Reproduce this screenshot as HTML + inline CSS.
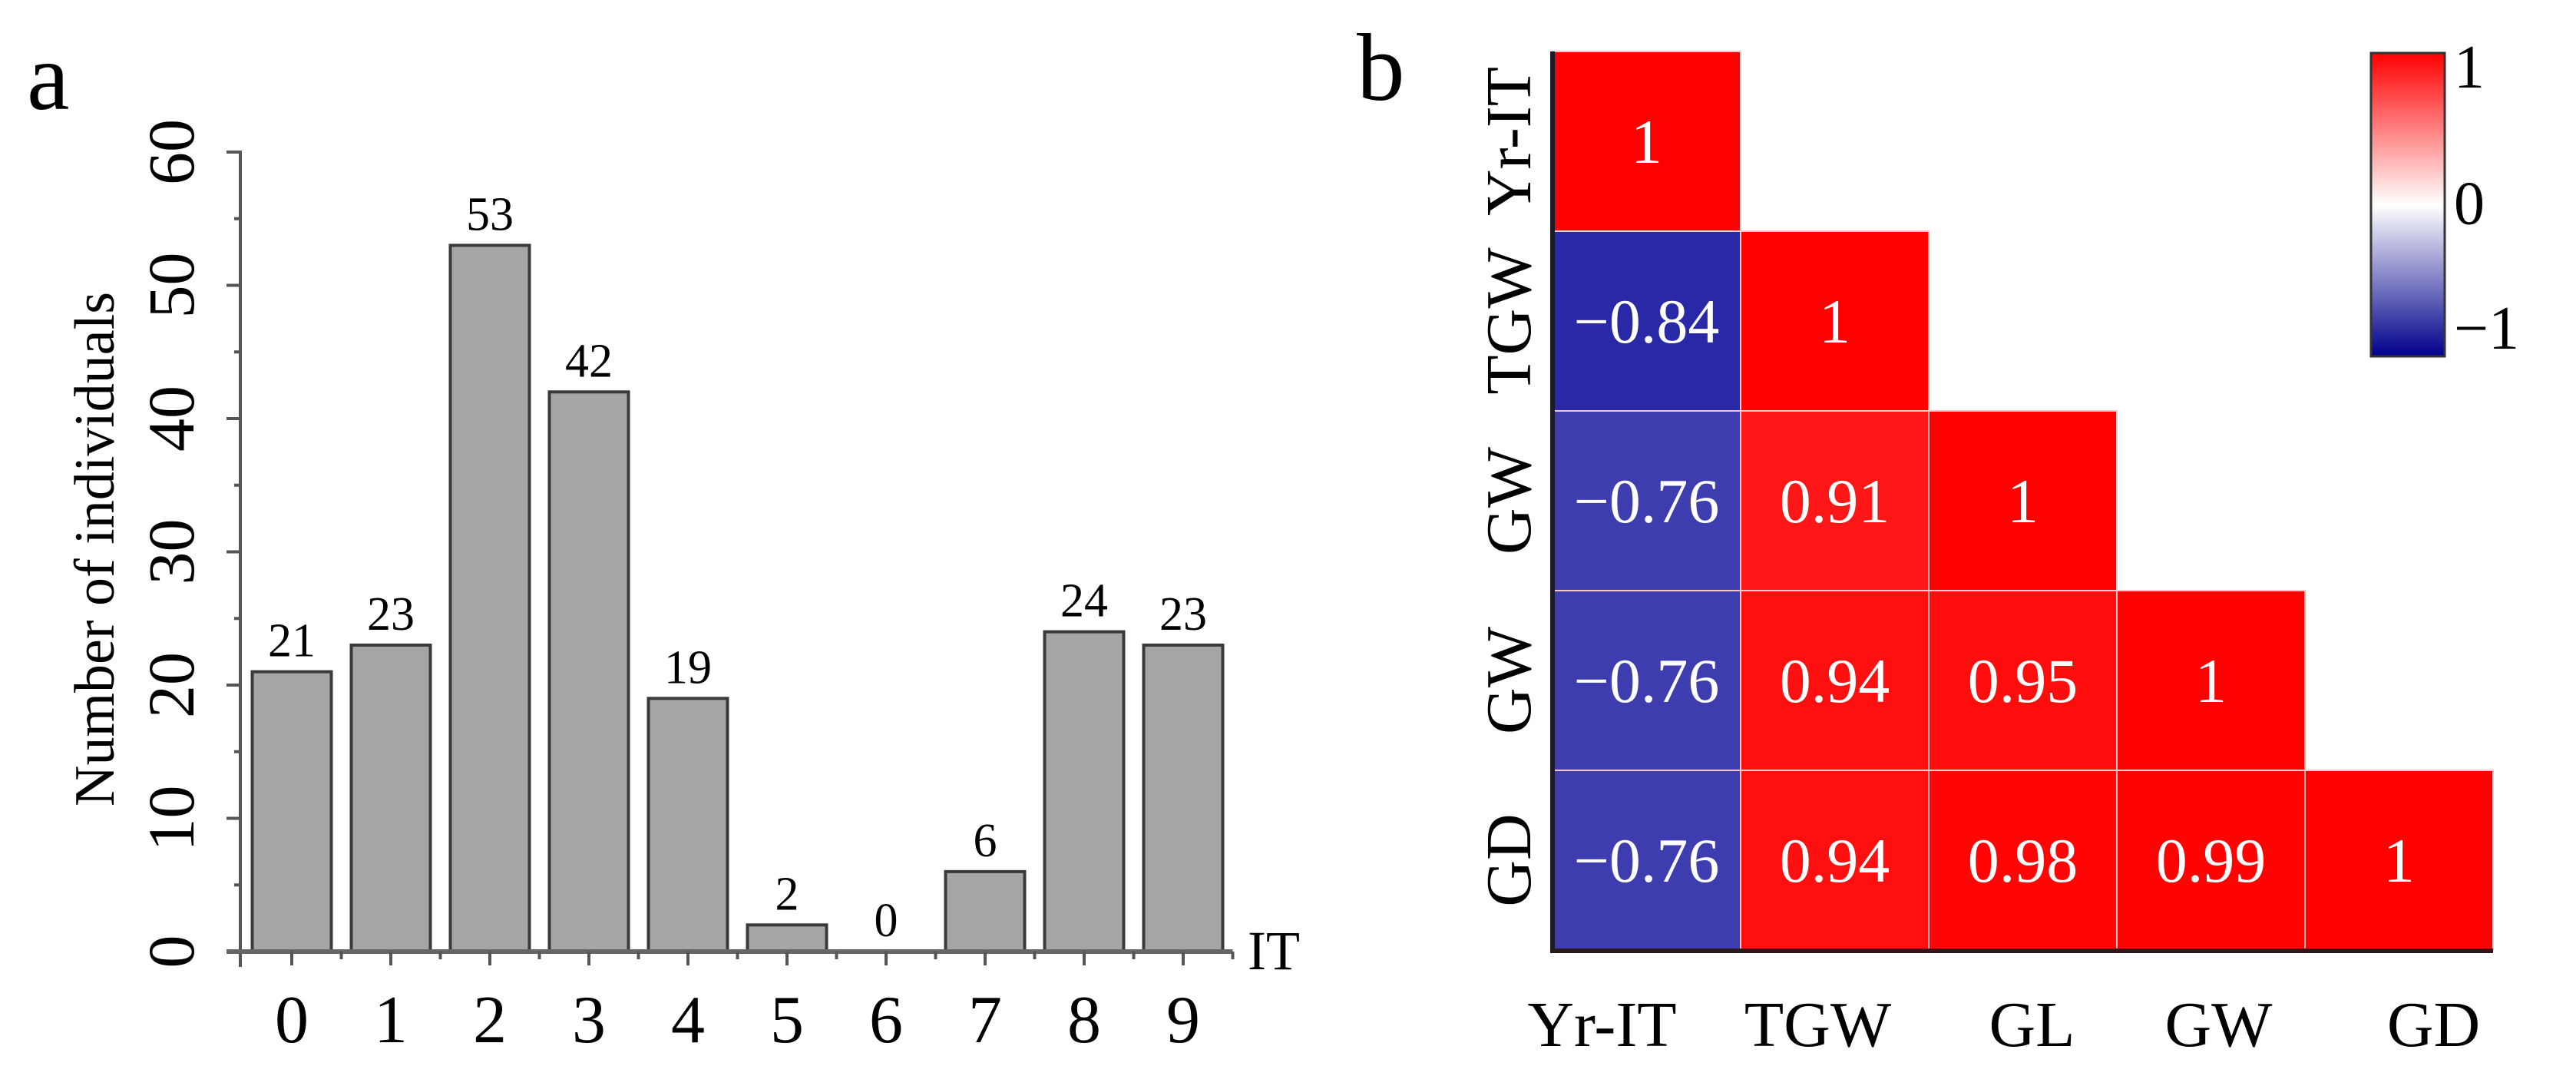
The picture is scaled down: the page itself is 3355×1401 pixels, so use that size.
<!DOCTYPE html>
<html><head><meta charset="utf-8"><style>
html,body{margin:0;padding:0;background:#fff}
svg, svg text{font-family:"Liberation Serif","Times New Roman",serif}
</style></head><body>
<svg id="fig" width="3355" height="1396" viewBox="0 0 3355 1396" font-family="Liberation Serif, serif">
<text x="35" y="142" font-size="125">a</text>
<g id="barChart"></g>
<text x="1767" y="130" font-size="125">b</text>
<g id="heat"></g>
<g id="cbar"></g>
</svg>
<script>
const categories = ["0","1","2","3","4","5","6","7","8","9"];
const counts = [21,23,53,42,19,2,0,6,24,23];
const yTicks = [0,10,20,30,40,50,60];

const heatVars = ["Yr-IT","TGW","GL","GW","GD"];
const rowLabels = ["Yr-IT","TGW","GW","GW","GD"];
const corrRow0 = [1];
const corrRow1 = [-0.84,1];
const corrRow2 = [-0.76,0.91,1];
const corrRow3 = [-0.76,0.94,0.95,1];
const corrRow4 = [-0.76,0.94,0.98,0.99,1];
const corrRows = [corrRow0,corrRow1,corrRow2,corrRow3,corrRow4];
const cbarTicks = [1,0,-1];

const NS="http://www.w3.org/2000/svg";
function mk(tag,attrs,parent){const e=document.createElementNS(NS,tag);for(const k in attrs)e.setAttribute(k,attrs[k]);parent.appendChild(e);return e;}

// ---- bar chart ----
const bc=document.getElementById('barChart');
const x0=313, y0=1239, pitch=129, firstC=380, barW=103;
const yPerUnit=173.5/10;
const yS=v=>y0-v*yPerUnit;
const xC=i=>firstC+i*pitch;
let e;
e=mk('line',{x1:x0,y1:yS(60)-2,x2:x0,y2:y0+20,stroke:'#555','stroke-width':4},bc);


for(let v=0;v<=60;v+=5){
  const major=v%10===0;
  e=mk('line',{x1:major?x0-18:x0-8,y1:yS(v),x2:x0,y2:yS(v),stroke:'#555','stroke-width':4},bc);
  
  
}
yTicks.forEach(v=>{
  const t=mk('text',{x:0,y:0,'font-size':86,'text-anchor':'middle',transform:`translate(252,${yS(v)}) rotate(-90)`},bc);
  t.textContent=v;
  
  
});
e=mk('text',{x:0,y:0,'font-size':74,'text-anchor':'middle',transform:`translate(148,715) rotate(-90)`},bc);
e.textContent='Number of individuals';


counts.forEach((v,i)=>{
  const r=mk('rect',{x:xC(i)-barW/2,y:yS(v),width:barW,height:Math.max(y0-yS(v),0.5),fill:'#a6a6a6',stroke:'#3a3a3a','stroke-width':4},bc);
  
  
  const t=mk('text',{x:xC(i),y:yS(v)-20,'font-size':62,'text-anchor':'middle'},bc);
  t.textContent=v;
  
  
});
e=mk('line',{x1:x0-18,y1:y0,x2:xC(9)+pitch/2,y2:y0,stroke:'#666','stroke-width':6},bc);


categories.forEach((c,i)=>{
  e=mk('line',{x1:xC(i),y1:y0,x2:xC(i),y2:y0+18,stroke:'#555','stroke-width':4},bc);
  
  
  e=mk('line',{x1:xC(i)+pitch/2,y1:y0,x2:xC(i)+pitch/2,y2:y0+10,stroke:'#555','stroke-width':4},bc);
  
  
  const t=mk('text',{x:xC(i),y:1357,'font-size':88,'text-anchor':'middle'},bc);
  t.textContent=c;
  
  
});
e=mk('text',{x:1625,y:1262,'font-size':72},bc);
e.textContent='IT';



// ---- heatmap ----
const hm=document.getElementById('heat');
const hx0=2022, hy0=67, cw=245, ch=234;
function col(v){
  if(v>=0){const t=v;return `rgb(255,${Math.round(255*(1-t))},${Math.round(255*(1-t))})`;}
  const t=-v;return `rgb(${Math.round(255*(1-t))},${Math.round(255*(1-t))},${Math.round(255-(255-150)*t)})`;
}
corrRows.forEach((row,r)=>{
  row.forEach((v,c)=>{
    const rc=mk('rect',{x:hx0+c*cw,y:hy0+r*ch,width:cw,height:ch,fill:col(v),stroke:'#f4c8c8','stroke-width':2},hm);
    
    
    const t=mk('text',{x:hx0+c*cw+cw/2,y:hy0+r*ch+ch/2+28,'font-size':82,'text-anchor':'middle',fill:'#fff'},hm);
    t.textContent=v===1?'1':(v<0?'\u2212'+Math.abs(v).toFixed(2):v.toFixed(2));
    
    
  });
});
e=mk('line',{x1:hx0,y1:hy0,x2:hx0,y2:hy0+5*ch+3,stroke:'#1a1a2a','stroke-width':6},hm);


e=mk('line',{x1:hx0-3,y1:hy0+5*ch+1,x2:hx0+5*cw,y2:hy0+5*ch+1,stroke:'#2a1a1a','stroke-width':6},hm);


const xLabOff=[-58,-22,12,10,45];
heatVars.forEach((v,i)=>{
  const t=mk('text',{x:hx0+i*cw+cw/2+xLabOff[i],y:1362,'font-size':84,'text-anchor':'middle'},hm);
  t.textContent=v;
  
  
});
rowLabels.forEach((v,i)=>{
  const t=mk('text',{x:0,y:0,'font-size':84,'text-anchor':'middle',transform:`translate(1993,${hy0+i*ch+ch/2}) rotate(-90)`},hm);
  t.textContent=v;
  
  
});

// ---- colorbar ----
const cb=document.getElementById('cbar');
const defs=mk('defs',{},cb);
const g=mk('linearGradient',{id:'cg',x1:0,y1:0,x2:0,y2:1},defs);
mk('stop',{offset:'0','stop-color':'#ff0000'},g);
mk('stop',{offset:'0.5','stop-color':'#ffffff'},g);
mk('stop',{offset:'1','stop-color':'#00008b'},g);
const cbx=3088, cby=69, cbw=96, cbh=395;
e=mk('rect',{x:cbx,y:cby,width:cbw,height:cbh,fill:'url(#cg)',stroke:'#333','stroke-width':3},cb);


cbarTicks.forEach(v=>{
  const yy=cby+(1-v)/2*cbh;
  const t=mk('text',{x:cbx+cbw+12,y:yy+(v===1?45:(v===-1?-10:25)),'font-size':80},cb);
  t.textContent=v<0?'\u2212'+Math.abs(v):String(v);
  
  
});
</script>
</body></html>
